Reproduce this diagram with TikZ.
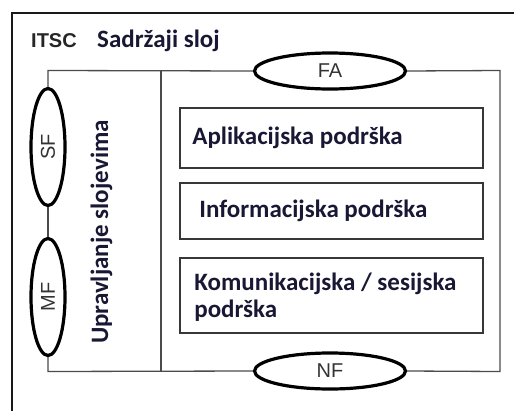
\documentclass[tikz,border=0pt]{standalone}
\usepackage{fontspec}
\setmainfont{Carlito}
\newfontfamily\arialfont{Liberation Sans}
\usetikzlibrary{shapes.geometric}
\definecolor{navytext}{RGB}{24,24,52}
\definecolor{framegray}{RGB}{55,55,55}
\definecolor{linegray}{RGB}{75,75,75}

\begin{document}
\begin{tikzpicture}[x=1pt, y=-1pt,
  ring/.style = {ellipse, draw, line width=3.2pt, inner sep=0pt,
    font=\arialfont\fontsize{20}{22}\selectfont, text=black!80},
  layerbox/.style = {rectangle, draw=framegray, line width=1.7pt,
    minimum width=303pt, inner sep=0pt},
  layertext/.style = {font=\bfseries\fontsize{25}{27}\selectfont, text=navytext,
    align=left, anchor=west, inner sep=0pt},
  inner/.style = {draw=linegray, line width=1.3pt}]
\useasboundingbox (0,0) rectangle (514,410);
% outer frame (runs off the page)
\coordinate (frameBL) at (12,414);
\coordinate (frameTR) at (518,13);
\draw[line width=2pt, draw=black!90] (frameBL) |- (frameTR);
\node[anchor=base west, inner sep=0pt, text=black!85,
  font=\arialfont\bfseries\fontsize{20}{22}\selectfont] (itsc) at (31,47) {ITSC};
\node[anchor=base west, inner sep=0pt, text=navytext,
  font=\bfseries\fontsize{25}{27}\selectfont] (title) at (97,47) {Sadržaji sloj};
% corners of the layer frame
\coordinate (tl) at (48,70.5);
\coordinate (tr) at (500,70.5);
\coordinate (br) at (500,371.5);
\coordinate (bl) at (48,371.5);
\coordinate (divtop) at (161,70.5);
\coordinate (divbot) at (161,371.5);
% functions
\node[ring, minimum width=151pt, minimum height=36pt] (fa) at (330,71) {FA};
\node[ring, minimum width=151pt, minimum height=36pt] (nf) at (330,371) {NF};
\node[ring, rotate=90, minimum width=117pt, minimum height=34pt] (sf) at (48,147) {SF};
\node[ring, rotate=90, minimum width=117pt, minimum height=34pt] (mf) at (48,297) {MF};
\draw[inner] (sf.east) -- (tl) -- (fa.west);
\draw[inner] (fa.east) -- (tr) -- (br) -- (nf.east);
\draw[inner] (nf.west) -- (bl) -- (mf.west);
\draw[inner] (mf.east) -- (sf.west);
\draw[inner] (divtop) -- (divbot);
\node[rotate=90, anchor=base, inner sep=0pt, text=navytext,
  font=\bfseries\fontsize{25}{27}\selectfont] (mgmt) at (108,232) {Upravljanje slojevima};
% layers
\node[layerbox, minimum height=60pt] (app) at (331.5,138) {};
\node[layerbox, minimum height=56pt] (info) at (331.5,211) {};
\node[layerbox, minimum height=75pt] (comm) at (331.5,295.5) {};
\node[layertext] (apptext) at ([xshift=13pt]app.west) {Aplikacijska podrška};
\node[layertext] (infotext) at ([xshift=20pt]info.west) {Informacijska podrška};
\node[layertext] (commtext) at ([xshift=15pt,yshift=-2pt]comm.west) {Komunikacijska / sesijska\\podrška};
\end{tikzpicture}
\end{document}
